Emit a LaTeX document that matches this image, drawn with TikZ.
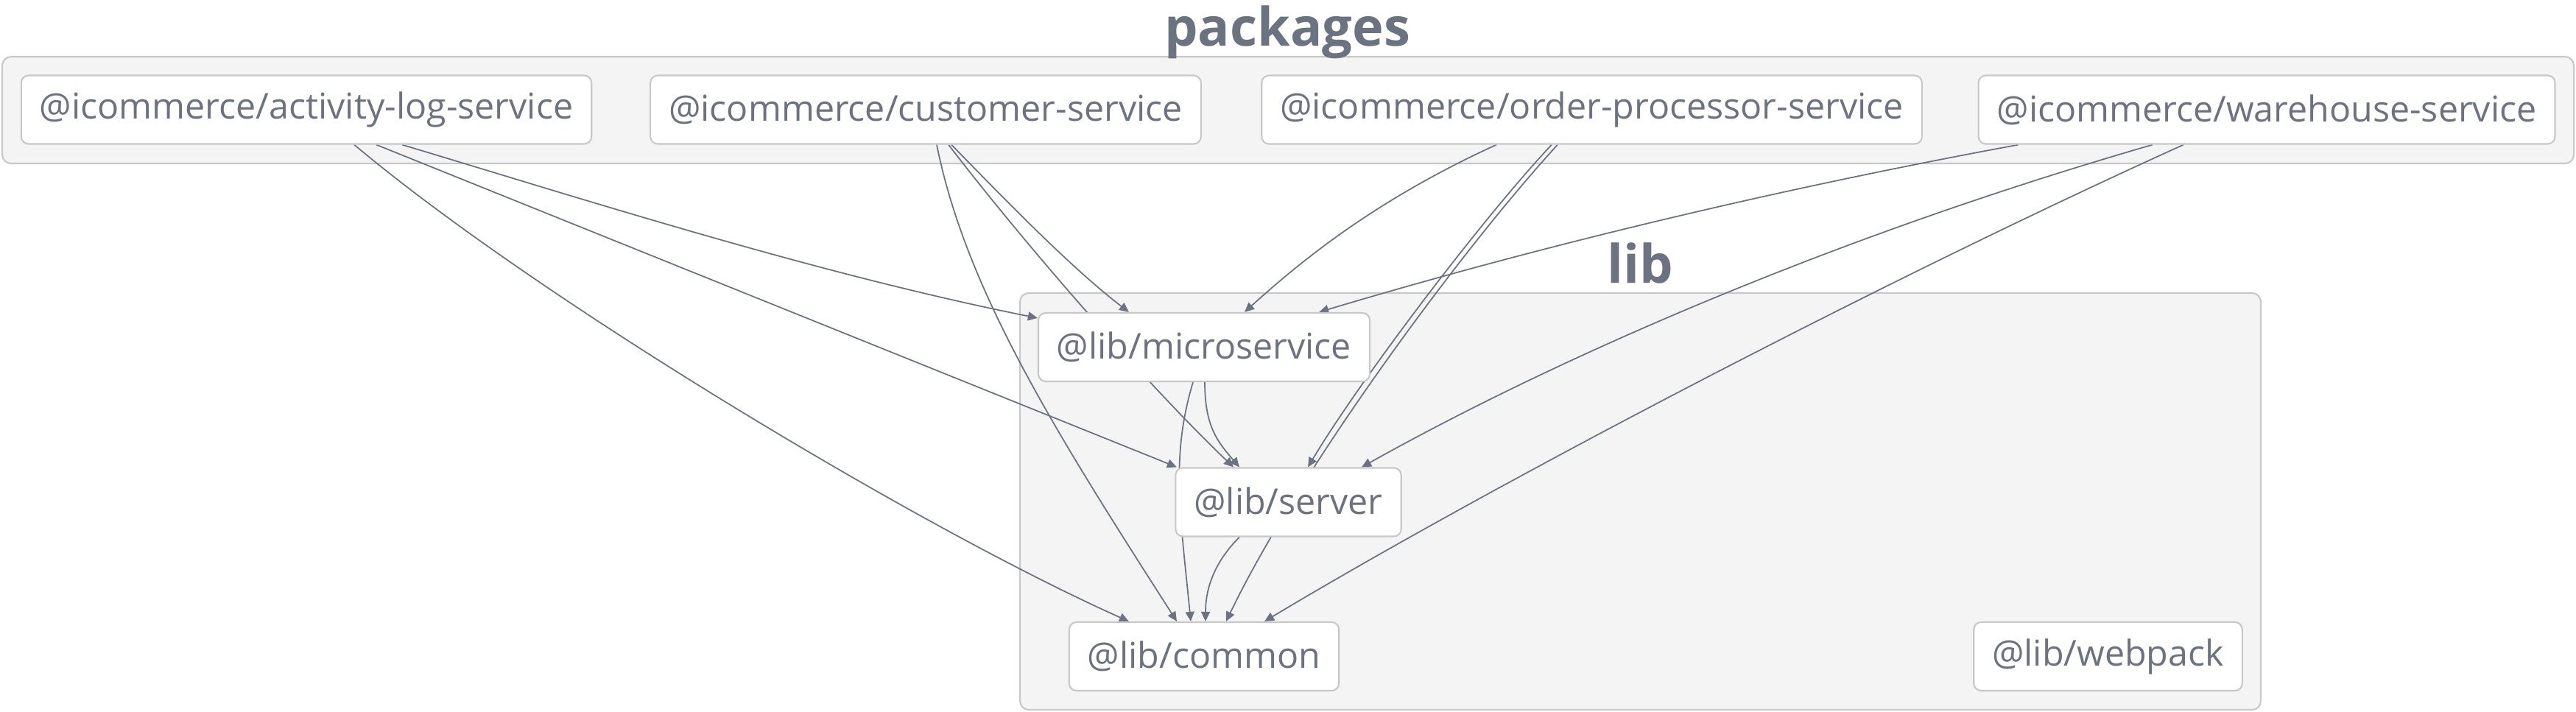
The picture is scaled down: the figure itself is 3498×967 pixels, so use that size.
\documentclass[tikz,border=0pt]{standalone}
\usepackage{fontspec}
\setmainfont{Open Sans}
\usepackage{tikz}
\usetikzlibrary{arrows.meta}
\usepackage{xcolor}
\definecolor{ColInk}{RGB}{107,114,128}
\definecolor{ColGroup}{RGB}{244,244,245}
\definecolor{ColLine}{RGB}{200,200,200}
\pgfdeclarelayer{groups}
\pgfdeclarelayer{links}
\pgfsetlayers{groups,links,main}
\tikzstyle{GroupBox}=[draw=ColLine,fill=ColGroup,line width=0.6pt,rounded corners=0.12cm]
\tikzstyle{GroupTitle}=[text=ColInk,anchor=base,inner sep=0pt,font=\fontsize{20.5}{24}\selectfont\bfseries]
\tikzstyle{PkgNode}=[draw=ColLine,fill=white,rounded corners=0.1cm,line width=0.6pt,
inner xsep=0.25cm,minimum height=0.93cm,text=ColInk,font=\fontsize{13.75}{16}\selectfont]
\tikzstyle{DepEdge}=[ColInk,line width=0.5pt,-{Triangle[length=0.13cm,width=0.12cm]}]

\begin{document}
\begin{tikzpicture}[x=0.01cm,y=-0.01cm]
        \useasboundingbox(0,0)rectangle(3498,967);
        \begin{pgfonlayer}{groups}
        \draw[GroupBox](3,77)rectangle(3495,222);
        \draw[GroupBox](1385,398)rectangle(3070,964);
        \end{pgfonlayer}
        \node[GroupTitle](pkgtitle)at(1748,63){packages};
        \node[GroupTitle](libtitle)at(2227,384){lib};
        % packages
        \node[PkgNode](act)at(416,149){@icommerce/activity-log-service};
        \node[PkgNode](cus)at(1257,149){@icommerce/customer-service};
        \node[PkgNode](ord)at(2161.5,149){@icommerce/order-processor-service};
        \node[PkgNode](war)at(3078,149){@icommerce/warehouse-service};
        % lib
        \node[PkgNode](mic)at(1635,471.5){@lib/microservice};
        \node[PkgNode](ser)at(1749.5,682){@lib/server};
        \node[PkgNode](com)at(1635,891.5){@lib/common};
        \node[PkgNode](web)at(2862.5,891.5){@lib/webpack};
        \begin{pgfonlayer}{links}
        \draw[DepEdge]([xshift=0.65cm]act.south)..controls +(250,210) and +(-280,-125)..([xshift=-1.02cm]com.north);
        \draw[DepEdge]([xshift=0.95cm]act.south)--([xshift=-1.515cm]ser.north);
        \draw[DepEdge]([xshift=1.3cm]act.south)..controls +(250,75) and +(-300,-60)..([yshift=-0.08cm]mic.north west);
        \draw[DepEdge]([xshift=0.15cm]cus.south)..controls +(40,200) and +(-160,-250)..([xshift=-0.37cm]com.north);
        \draw[DepEdge]([xshift=0.35cm]cus.south)..controls +(78,80) and +(-78,-60)..([xshift=-1.02cm]mic.north);
        \draw[DepEdge]([xshift=0.31cm]cus.south)..controls +(115,150) and +(-105,-100)..([xshift=-0.745cm]ser.north);
        \draw[DepEdge]([xshift=-1.295cm]ord.south)..controls +(-153,70) and +(88,-80)..([xshift=0.55cm]mic.north);
        \draw[DepEdge]([xshift=-0.545cm]ord.south)..controls +(-94,100) and +(72,-120)..([xshift=0.265cm]ser.north);
        \draw[DepEdge]([xshift=-0.465cm]ord.south)..controls +(-137,150) and +(96,-200)..([xshift=0.3cm]com.north);
        \draw[DepEdge]([xshift=-3.37cm]war.south)..controls +(-380,70) and +(250,-75)..([xshift=1.56cm]mic.north);
        \draw[DepEdge]([xshift=-1.55cm]war.south)..controls +(-450,130) and +(250,-140)..([xshift=0.995cm]ser.north);
        \draw[DepEdge]([xshift=-1.13cm]war.south)..controls +(-420,190) and +(300,-180)..([xshift=0.82cm]com.north);
        \draw[DepEdge]([xshift=0.01cm]mic.south)..controls +(0,60) and +(-30,-35)..([xshift=-0.665cm]ser.north);
        \draw[DepEdge]([xshift=-0.15cm]mic.south)..controls +(-30,100) and +(-15,-150)..([xshift=-0.18cm]com.north);
        \draw[DepEdge]([xshift=-0.665cm]ser.south)..controls +(-30,30) and +(0,-50)..([xshift=0.02cm]com.north);
        \end{pgfonlayer}
    \end{tikzpicture}
\end{document}
